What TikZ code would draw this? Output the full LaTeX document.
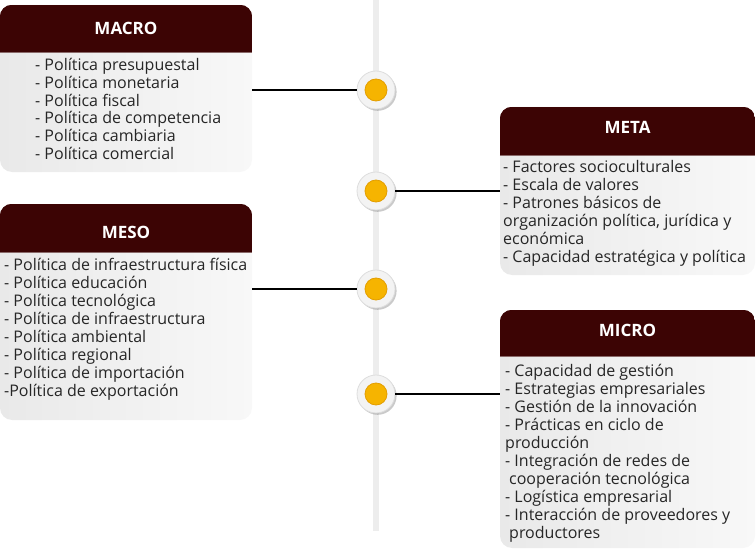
\documentclass[tikz,border=0pt]{standalone}
\usepackage{fontspec}
\setmainfont{Open Sans}
\usetikzlibrary{shadows}
\definecolor{hdr}{HTML}{3C0404}
\definecolor{hdrline}{HTML}{8A6A6A}
\definecolor{bodyA}{HTML}{E9E9E9}
\definecolor{bodyB}{HTML}{F8F8F8}
\definecolor{spine}{HTML}{EDEDED}
\definecolor{dotY}{HTML}{F6B400}
\definecolor{dotR}{HTML}{E39E00}
\definecolor{dotW}{HTML}{F3F3F3}
\definecolor{dotE}{HTML}{DDDDDD}
\tikzset{
  boxbody/.style={rectangle, rounded corners=12pt, inner sep=0pt, left color=bodyA, right color=bodyB},
  boxtitle/.style={text=white, font=\fontsize{17}{20}\selectfont\bfseries, inner sep=0pt},
  itemtext/.style={align=left, inner sep=0pt, anchor=base west, text=black!85, font=\fontsize{16}{18}\selectfont},
  dotouter/.style={circle, minimum size=38pt, inner sep=0pt, fill=dotW, draw=dotE, line width=0.8pt,
     drop shadow={shadow xshift=1.6pt, shadow yshift=-1.8pt, opacity=0.35, fill=black!60}},
  dotinner/.style={circle, minimum size=22pt, inner sep=0pt, fill=dotY, draw=dotR, line width=0.8pt},
  link/.style={draw=black, line width=2pt},
}
\newcommand\levelbox[8]{%
  % #1 name, #2 x0, #3 y0, #4 x1, #5 y1, #6 header height, #7 title offset from top, #8 title
  \node[boxbody, minimum width=#4pt-#2pt, minimum height=#5pt-#3pt] (#1) at ({(#2+#4)/2},{(#3+#5)/2}) {};
  \begin{scope}
    \clip[rounded corners=12pt] (#1.south west) rectangle (#1.north east);
    \fill[hdr] (#1.north west) rectangle ([yshift=-#6pt]#1.north east);
    \draw[hdrline, line width=0.6pt] ([yshift=-#6pt]#1.north west) -- ([yshift=-#6pt]#1.north east);
  \end{scope}
  \node[boxtitle] (#1title) at ([yshift=-#7pt]#1.north) {#8};
}
\begin{document}
\begin{tikzpicture}[x=1pt,y=-1pt]
\useasboundingbox (0,0) rectangle (756,551);
% spine
\draw[spine, line width=6pt] (376,0) -- (376,531);

% boxes
\levelbox{macro}{0}{5}{252}{172}{48}{24}{MACRO}
\levelbox{meta}{500}{107}{755}{275}{48}{21}{META}
\levelbox{meso}{0}{204}{252}{420}{48}{29}{MESO}
\levelbox{micro}{500}{310}{755}{548}{46}{21}{MICRO}

% item lists (anchored at the baseline of their last line)
\node[itemtext] (macrot) at (35,160) {- Política presupuestal\\- Política monetaria\\- Política fiscal\\- Política de competencia\\- Política cambiaria\\- Política comercial};
\node[itemtext] (metat) at (503,262) {- Factores socioculturales\\- Escala de valores\\- Patrones básicos de\\organización política, jurídica y\\económica\\- Capacidad estratégica y política};
\node[itemtext] (mesot) at (4,396) {- Política de infraestructura física\\- Política educación\\- Política tecnológica\\- Política de infraestructura\\- Política ambiental\\- Política regional\\- Política de importación\\-Política de exportación};
\node[itemtext] (microt) at (505,538) {- Capacidad de gestión\\- Estrategias empresariales\\- Gestión de la innovación\\- Prácticas en ciclo de\\producción\\- Integración de redes de\\\hspace{4pt}cooperación tecnológica\\- Logística empresarial\\- Interacción de proveedores y\\\hspace{4pt}productores};

% dots
\foreach \n/\y in {d1/90, d2/191, d3/289, d4/394}{
  \node[dotouter] (\n) at (376,\y) {};
  \node[dotinner] (\n i) at (376,\y) {};
}

% connectors
\draw[link] (macro.east |- d1) -- (d1.west);
\draw[link] (d2.east) -- (meta.west |- d2);
\draw[link] (meso.east |- d3) -- (d3.west);
\draw[link] (d4.east) -- (micro.west |- d4);
\end{tikzpicture}
\end{document}
